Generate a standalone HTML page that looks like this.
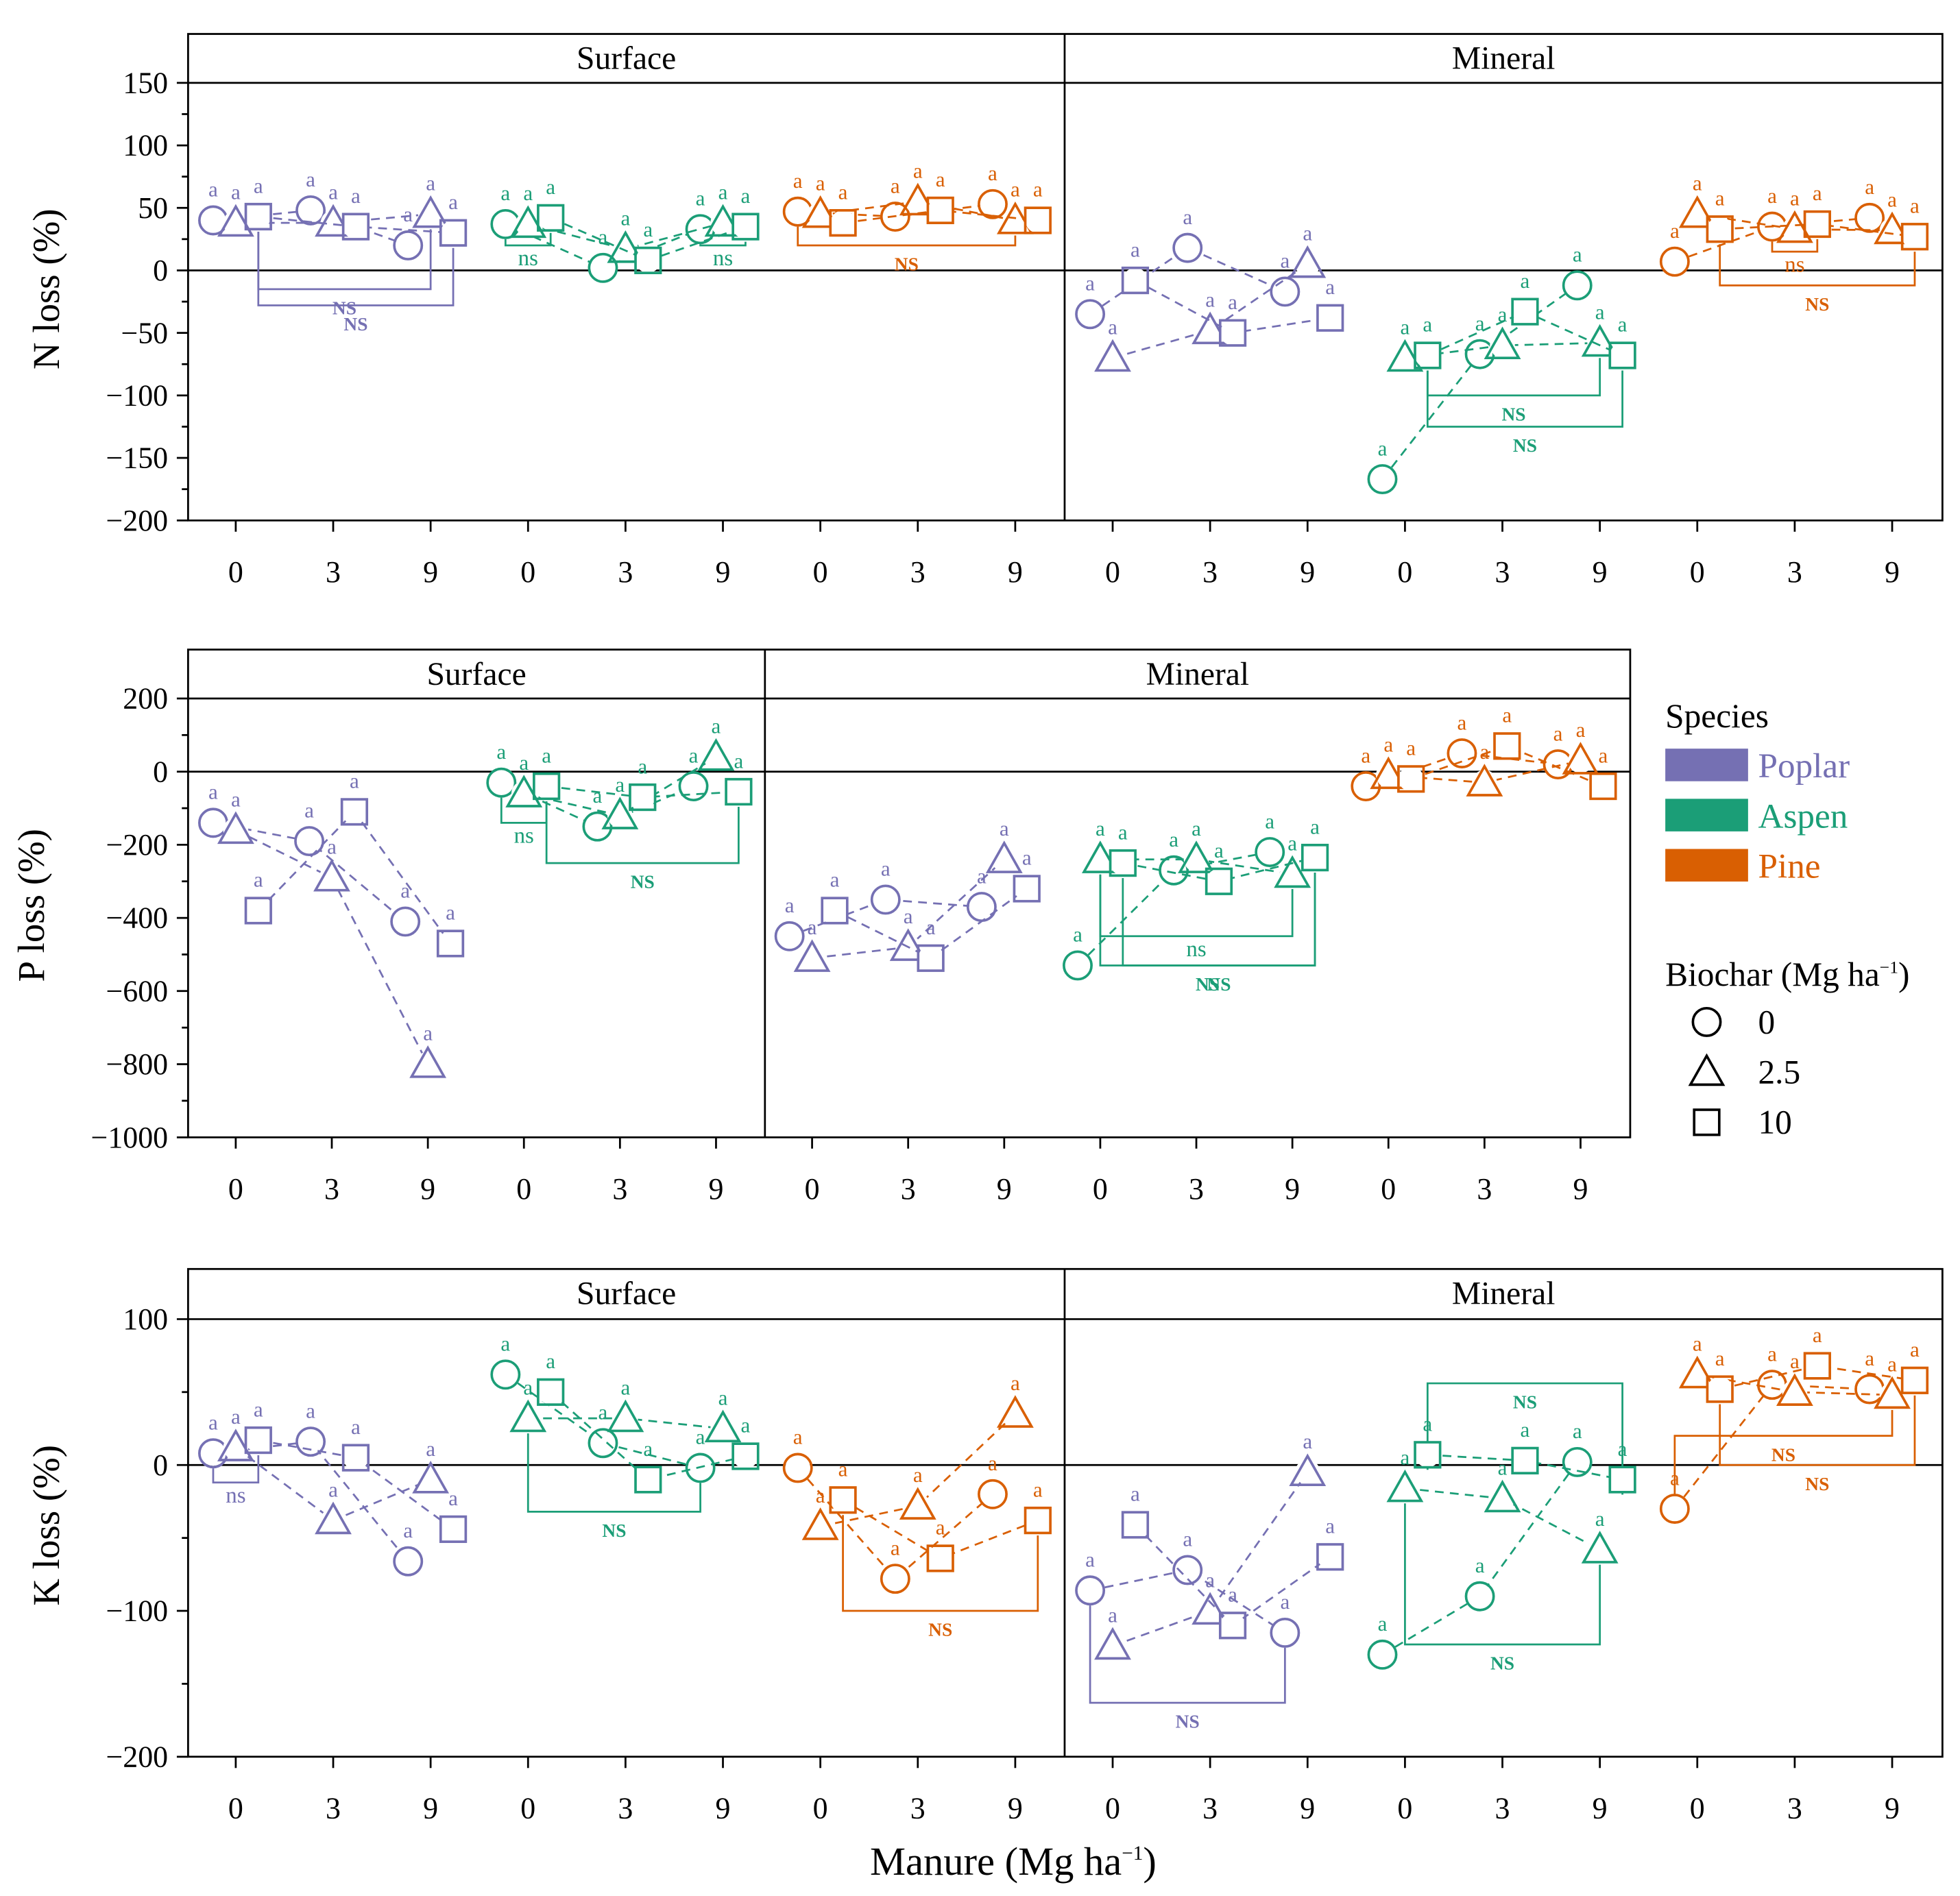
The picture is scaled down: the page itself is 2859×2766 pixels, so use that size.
<!DOCTYPE html>
<html><head><meta charset="utf-8">
<style>
html,body{margin:0;padding:0;background:#fff;}
svg{display:block;font-family:"Liberation Serif",serif;}
</style></head>
<body>
<svg id="chart" width="2859" height="2766" viewBox="0 0 1563 1512" xmlns="http://www.w3.org/2000/svg"></svg>
<script>
// ---------- data (each: [circle=0 biochar, triangle=2.5, square=10] by manure 0,3,9) ----------
const manureLabels = ["0","3","9"];
const biocharLabels = ["0","2.5","10"];
const speciesNames = ["Poplar","Aspen","Pine"];
const nTicks = [150,100,50,0,-50,-100,-150,-200];
const pTicks = [200,0,-200,-400,-600,-800,-1000];
const kTicks = [100,0,-100,-200];

const nSurfPoplar = [[40,48,20],[38,38,45],[43,35,30]];
const nSurfAspen  = [[37,2,33],[37,17,38],[42,8,35]];
const nSurfPine   = [[47,43,53],[45,55,40],[38,48,40]];
const nMinPoplar  = [[-35,18,-17],[-70,-48,5],[-8,-50,-38]];
const nMinAspen   = [[-167,-67,-12],[-70,-60,-58],[-68,-33,-68]];
const nMinPine    = [[7,35,42],[45,33,32],[33,37,27]];

const pSurfPoplar = [[-140,-190,-410],[-160,-290,-800],[-380,-110,-470]];
const pSurfAspen  = [[-30,-150,-40],[-60,-120,40],[-40,-70,-55]];
const pMinPoplar  = [[-450,-350,-370],[-510,-480,-240],[-380,-510,-320]];
const pMinAspen   = [[-530,-270,-220],[-240,-240,-280],[-250,-300,-235]];
const pMinPine    = [[-40,50,20],[-10,-30,30],[-20,70,-40]];

const kSurfPoplar = [[8,16,-66],[12,-38,-10],[17,5,-44]];
const kSurfAspen  = [[62,15,-2],[32,32,25],[50,-10,6]];
const kSurfPine   = [[-2,-78,-20],[-42,-28,35],[-24,-64,-38]];
const kMinPoplar  = [[-86,-72,-115],[-124,-100,-5],[-41,-110,-63]];
const kMinAspen   = [[-130,-90,2],[-16,-23,-58],[7,3,-10]];
const kMinPine    = [[-30,55,52],[62,50,48],[52,68,58]];

// brackets: [groupIndex, fromManure, fromBiochar, toManure, toBiochar, level value, label]
const nBrackets = [[0,0,2,2,1,-15,"NS"],[0,0,2,2,2,-28,"NS"],[1,0,0,0,2,20,"ns"],[1,2,0,2,2,20,"ns"],[2,0,0,2,1,20,"NS"],[4,0,2,2,1,-100,"NS"],[4,0,2,2,2,-125,"NS"],[5,1,0,1,2,15,"ns"],[5,0,2,2,2,-12,"NS"]];
const pBrackets = [[1,0,0,0,2,-140,"ns"],[1,0,2,2,2,-250,"NS"],[3,0,1,2,1,-450,"ns"],[3,0,1,2,2,-530,"NS"],[3,0,2,2,2,-530,"NS"]];
const kBrackets = [[0,0,0,0,2,-12,"ns"],[1,0,1,2,0,-32,"NS"],[2,0,2,2,2,-100,"NS"],[3,0,0,2,0,-163,"NS"],[4,0,1,2,1,-123,"NS"],[4,0,2,2,2,56,"NS"],[5,0,0,2,1,20,"NS"],[5,0,2,2,2,0,"NS"]];

// ---------- rendering ----------
const COLORS=["#7570b3","#1b9e77","#d95f02"];
const NS="http://www.w3.org/2000/svg";
const svg=document.getElementById('chart');
function el(tag,attrs,parent,text){const e=document.createElementNS(NS,tag);for(const k in attrs)e.setAttribute(k,attrs[k]);if(text!==undefined)e.textContent=text;(parent||svg).appendChild(e);return e;}

const panels=[
 {name:"n",title:"N loss (%)",x0:150,x1:1549,y0:27,yh:66,yb:415,vmax:150,vmin:-200,ticks:nTicks,minor:25,divider:849,
  strips:[["Surface",150,849],["Mineral",849,1549]],firstTick:188,tickStep:77.7,brackets:nBrackets,
  groups:[[nSurfPoplar,0],[nSurfAspen,1],[nSurfPine,2],[nMinPoplar,0],[nMinAspen,1],[nMinPine,2]],titleX:47},
 {name:"p",title:"P loss (%)",x0:150,x1:1300,y0:518,yh:557,yb:907,vmax:200,vmin:-1000,ticks:pTicks,minor:100,divider:610,
  strips:[["Surface",150,610],["Mineral",610,1300]],firstTick:188,tickStep:76.6,brackets:pBrackets,
  groups:[[pSurfPoplar,0],[pSurfAspen,1],[pMinPoplar,0],[pMinAspen,1],[pMinPine,2]],titleX:35},
 {name:"k",title:"K loss (%)",x0:150,x1:1549,y0:1012,yh:1052,yb:1401,vmax:100,vmin:-200,ticks:kTicks,minor:50,divider:849,
  strips:[["Surface",150,849],["Mineral",849,1549]],firstTick:188,tickStep:77.7,brackets:kBrackets,
  groups:[[kSurfPoplar,0],[kSurfAspen,1],[kSurfPine,2],[kMinPoplar,0],[kMinAspen,1],[kMinPine,2]],titleX:47}
];

function marker(g,shape,x,y,c){
  if(shape===0){const m=el('circle',{cx:x,cy:y,r:11,fill:'none',stroke:c,'stroke-width':2},g);}
  else if(shape===1){const m=el('polygon',{points:`${x},${y-13} ${x-13},${y+10} ${x+13},${y+10}`,fill:'none',stroke:c,'stroke-width':2},g);}
  else {const m=el('rect',{x:x-10,y:y-10,width:20,height:20,fill:'none',stroke:c,'stroke-width':2},g);}
}

panels.forEach(p=>{
  const g=el('g',{});
  
  
  const yS=v=>p.yh+(p.vmax-v)/(p.vmax-p.vmin)*(p.yb-p.yh);
  const xS=(gi,mi)=>p.firstTick+(gi*3+mi)*p.tickStep;
  const fr=el('rect',{x:p.x0,y:p.y0,width:p.x1-p.x0,height:p.yb-p.y0,fill:'none',stroke:'#000','stroke-width':1.5},g);
  
  el('line',{x1:p.x0,x2:p.x1,y1:p.yh,y2:p.yh,stroke:'#000','stroke-width':1.5},g);
  el('line',{x1:p.divider,x2:p.divider,y1:p.y0,y2:p.yb,stroke:'#000','stroke-width':1.5},g);
  el('line',{x1:p.x0,x2:p.x1,y1:yS(0),y2:yS(0),stroke:'#000','stroke-width':1.5},g);
  p.strips.forEach(s=>{const t=el('text',{x:(s[1]+s[2])/2,y:p.y0+28,'text-anchor':'middle','font-size':26},g,s[0]);});
  for(let v=p.vmin;v<=p.vmax;v+=p.minor){const y=yS(v);const major=p.ticks.includes(v);el('line',{x1:p.x0-(major?9:5),x2:p.x0,y1:y,y2:y,stroke:'#000','stroke-width':1.5},g);}
  p.ticks.forEach(v=>{const t=el('text',{x:p.x0-16,y:yS(v)+8,'text-anchor':'end','font-size':24},g,v<0?'\u2212'+(-v):String(v));});
  const yt=el('text',{x:p.titleX+10,y:(p.yh+p.yb)/2,'text-anchor':'middle','font-size':30,transform:`rotate(-90 ${p.titleX} ${(p.yh+p.yb)/2})`},g,p.title);
  
  p.groups.forEach((gr,gi)=>{manureLabels.forEach((lab,mi)=>{const x=xS(gi,mi);el('line',{x1:x,x2:x,y1:p.yb,y2:p.yb+9,stroke:'#000','stroke-width':1.5},g);const t=el('text',{x:x,y:p.yb+49,'text-anchor':'middle','font-size':24},g,lab);});});
  // brackets
  p.brackets.forEach(b=>{
    const gr=p.groups[b[0]],c=COLORS[gr[1]],d=gr[0];
    const xa=xS(b[0],b[1])+(b[2]-1)*18, xb=xS(b[0],b[3])+(b[4]-1)*18;
    const ya=yS(d[b[2]][b[1]]), yb=yS(d[b[4]][b[3]]), yl=yS(b[5]);
    const bl=el('polyline',{points:`${xa},${ya+12} ${xa},${yl} ${xb},${yl} ${xb},${yb+12}`,fill:'none',stroke:c,'stroke-width':1.5},g);
    
    const bt=el('text',{x:(xa+xb)/2,y:yl+(b[6]==="ns"?16:20),'text-anchor':'middle','font-size':b[6]==="ns"?18:15,'font-weight':b[6]==="ns"?'normal':'bold',fill:c},g,b[6]);
    
  });
  p.groups.forEach((gr,gi)=>{
    const data=gr[0],c=COLORS[gr[1]];
    const sg=el('g',{},g);
    
    
    data.forEach((vals,bi)=>{
      const off=(bi-1)*18;
      const pts=vals.map((v,mi)=>[xS(gi,mi)+off,yS(v)]);
      el('polyline',{points:pts.map(q=>q.join(',')).join(' '),fill:'none',stroke:c,'stroke-width':1.5,'stroke-dasharray':'7,5'},sg);
      pts.forEach(q=>{
        el('line',{x1:q[0],x2:q[0],y1:q[1]-9,y2:q[1]+9,stroke:c,'stroke-width':1.5},sg);
        el('circle',{cx:q[0],cy:q[1],r:10,fill:'#fff',stroke:'none'},sg);
        marker(sg,bi,q[0],q[1],c);
        const lt=el('text',{x:q[0],y:q[1]-19,'text-anchor':'middle','font-size':17,fill:c},sg,'a');
        
      });
    });
  });
});

const xt=el('text',{x:808,y:1495,'text-anchor':'middle','font-size':32});

xt.innerHTML='Manure (Mg ha<tspan dy="-12" font-size="16">\u22121</tspan><tspan dy="12">)</tspan>';

const lg=el('g',{});

el('text',{x:1328,y:580,'font-size':27},lg,'Species');
speciesNames.forEach((s,i)=>{
  const r=el('rect',{x:1328,y:597+i*40,width:66,height:26,fill:COLORS[i]},lg);
  
  const t=el('text',{x:1402,y:620+i*40,'font-size':28,fill:COLORS[i]},lg,s);
  
});
const bt=el('text',{x:1328,y:786,'font-size':27},lg);
bt.innerHTML='Biochar (Mg ha<tspan dy="-10" font-size="14">\u22121</tspan><tspan dy="10">)</tspan>';
biocharLabels.forEach((b,i)=>{
  marker(lg,i,1361,815+i*40,'#000');
  const t=el('text',{x:1402,y:824+i*40,'font-size':27},lg,b);
  
});
</script>
</body></html>
